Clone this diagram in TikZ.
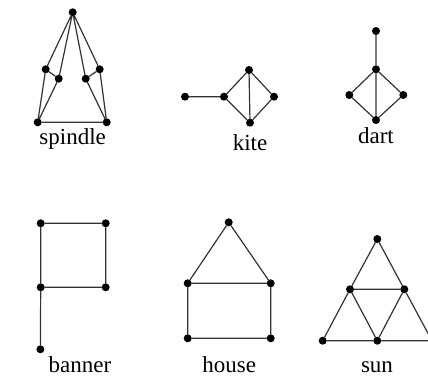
\documentclass[tikz,border=0pt]{standalone}
\usepackage{fontspec}
\setmainfont{Liberation Serif}
\tikzset{
  vtx/.style={circle, fill=black, inner sep=0pt, minimum size=8pt},
  gname/.style={anchor=base, inner sep=0pt, font=\fontsize{23}{26}\selectfont},
  edge/.style={line width=1.2pt, draw=black!80, line cap=round},
}
\begin{document}
\begin{tikzpicture}[x=1pt,y=-1pt]
  \useasboundingbox (0,0) rectangle (428,380);
  % spindle
  \node[vtx] (sp0) at (72.7,12.3) {};
  \node[vtx] (sp1) at (45.7,69.3) {};
  \node[vtx] (sp2) at (58.7,78.7) {};
  \node[vtx] (sp3) at (85.7,78.7) {};
  \node[vtx] (sp4) at (99.7,69.3) {};
  \node[vtx] (sp5) at (37.7,122.3) {};
  \node[vtx] (sp6) at (106.7,122.3) {};
  \node[gname] (spl) at (72.7,144) {spindle};
  \draw[edge] (sp0) -- (sp1) (sp0) -- (sp2) (sp0) -- (sp3) (sp0) -- (sp4)
    (sp1) -- (sp2) (sp4) -- (sp3) (sp1) -- (sp5) (sp2) -- (sp5)
    (sp3) -- (sp6) (sp4) -- (sp6) (sp5) -- (sp6);
  % kite
  \node[vtx] (k0) at (185,96.7) {};
  \node[vtx] (k1) at (224,96.7) {};
  \node[vtx] (k2) at (249,70) {};
  \node[vtx] (k3) at (274,96.7) {};
  \node[vtx] (k4) at (250,122.7) {};
  \node[gname] (kl) at (250,150.5) {kite};
  \draw[edge] (k0) -- (k1) (k1) -- (k2) (k1) -- (k4) (k2) -- (k4)
    (k2) -- (k3) (k3) -- (k4);
  % dart
  \node[vtx] (d0) at (376,31) {};
  \node[vtx] (d1) at (376,69.3) {};
  \node[vtx] (d2) at (349.3,95) {};
  \node[vtx] (d3) at (403.3,95) {};
  \node[vtx] (d4) at (376,120) {};
  \node[gname] (dl) at (376,143) {dart};
  \draw[edge] (d0) -- (d1) (d1) -- (d2) (d1) -- (d3) (d1) -- (d4)
    (d2) -- (d4) (d3) -- (d4);
  % banner
  \node[vtx] (b0) at (40.7,223.3) {};
  \node[vtx] (b1) at (105.7,223.3) {};
  \node[vtx] (b2) at (40.7,287.3) {};
  \node[vtx] (b3) at (105.7,287.3) {};
  \node[vtx] (b4) at (40.4,349.3) {};
  \node[gname] (bl) at (80,372.5) {banner};
  \draw[edge] (b0) -- (b1) (b1) -- (b3) (b3) -- (b2) (b2) -- (b0) (b2) -- (b4);
  % house
  \node[vtx] (h0) at (228.7,222.3) {};
  \node[vtx] (h1) at (187.7,283.3) {};
  \node[vtx] (h2) at (270.7,283.3) {};
  \node[vtx] (h3) at (187.7,338.3) {};
  \node[vtx] (h4) at (270.7,338.3) {};
  \node[gname] (hl) at (229.3,372.5) {house};
  \draw[edge] (h0) -- (h1) (h0) -- (h2) (h1) -- (h2) (h1) -- (h3)
    (h2) -- (h4) (h3) -- (h4);
  % sun
  \node[vtx] (s0) at (377.3,239) {};
  \node[vtx] (s1) at (350,289.3) {};
  \node[vtx] (s2) at (404.3,289.3) {};
  \node[vtx] (s3) at (322.7,340.7) {};
  \node[vtx] (s4) at (377.3,340.7) {};
  \node[vtx] (s5) at (432,340.7) {};
  \node[gname] (sl) at (377,372.5) {sun};
  \draw[edge] (s0) -- (s1) (s0) -- (s2) (s1) -- (s2) (s1) -- (s3)
    (s1) -- (s4) (s2) -- (s4) (s2) -- (s5) (s3) -- (s4) (s4) -- (s5);
\end{tikzpicture}
\end{document}
